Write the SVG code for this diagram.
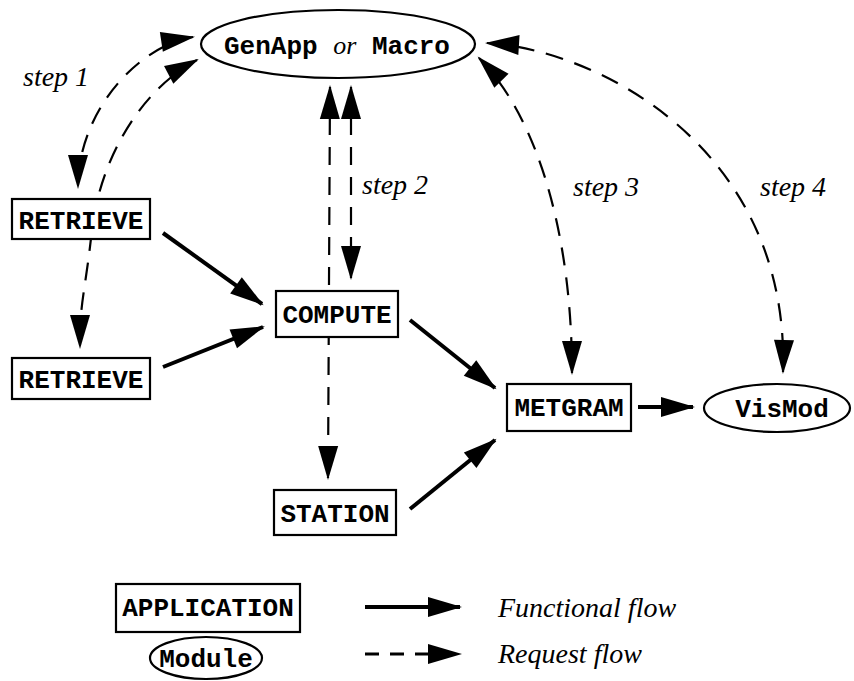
<svg xmlns="http://www.w3.org/2000/svg" width="854" height="681" viewBox="0 0 854 681">
<defs>
<marker id="ah" markerUnits="userSpaceOnUse" markerWidth="34" markerHeight="20" refX="32" refY="10" orient="auto-start-reverse" overflow="visible">
<path d="M0,0 L34,10 L0,20 z" fill="#000"/>
</marker>
</defs>
<style>
.box{fill:#fff;stroke:#000;stroke-width:2.2}
.lbl{font-family:"Liberation Mono","Courier New",monospace;font-weight:bold;font-size:26px;text-anchor:middle;fill:#000}
.it{font-family:"Liberation Serif","Times New Roman",serif;font-style:italic;font-size:28px;fill:#000}
.orw{font-family:"Liberation Serif","Times New Roman",serif;font-style:italic;font-weight:normal}
.fn{fill:none;stroke:#000;stroke-width:4;marker-end:url(#ah)}
.rq{fill:none;stroke:#000;stroke-width:2.2;stroke-dasharray:18 12;marker-start:url(#ah);marker-end:url(#ah)}
</style>
<rect width="854" height="681" fill="#fff"/>
<g id="connectors">
<path class="rq" d="M193,37 C140,45 78,110 78,187"/>
<path class="rq" d="M197,60 C140,90 100,160 92,230 S80,300 80,347"/>
<path class="rq" d="M330,87 L328,478"/>
<path class="rq" d="M351,87 L351,278"/>
<path class="rq" d="M479,58 C540,120 572,240 572,373"/>
<path class="rq" d="M487,43 C600,50 790,150 783,372"/>
<path class="fn" d="M163,233 L262,304"/>
<path class="fn" d="M163,367 L263,327"/>
<path class="fn" d="M410,320 L495,388"/>
<path class="fn" d="M410,509 L495,440"/>
<path class="fn" d="M638,407 L693,407"/>
</g>
<g id="genapp">
<ellipse class="box" cx="338" cy="44" rx="137" ry="34"/>
<text class="lbl" x="337" y="54">GenApp <tspan class="orw">or</tspan> Macro</text>
</g>
<g id="retrieve1">
<rect class="box" x="12" y="199" width="138" height="40"/>
<text class="lbl" x="81" y="229">RETRIEVE</text>
</g>
<g id="retrieve2">
<rect class="box" x="12" y="358" width="138" height="41"/>
<text class="lbl" x="81" y="388">RETRIEVE</text>
</g>
<g id="compute">
<rect class="box" x="276" y="291" width="122" height="46"/>
<text class="lbl" x="337" y="323">COMPUTE</text>
</g>
<g id="metgram">
<rect class="box" x="507" y="384" width="124" height="47"/>
<text class="lbl" x="569" y="416">METGRAM</text>
</g>
<g id="vismod">
<ellipse class="box" cx="777" cy="408" rx="73" ry="24"/>
<text class="lbl" x="782" y="417">VisMod</text>
</g>
<g id="station">
<rect class="box" x="274" y="490" width="122" height="45"/>
<text class="lbl" x="335" y="522">STATION</text>
</g>
<g id="step-labels">
<text class="it" x="23" y="86">step 1</text>
<text class="it" x="362" y="194">step 2</text>
<text class="it" x="573" y="196">step 3</text>
<text class="it" x="760" y="196">step 4</text>
</g>
<g id="legend">
<g id="legend-application">
<rect class="box" x="116" y="584" width="184" height="48"/>
<text class="lbl" x="208" y="616">APPLICATION</text>
</g>
<g id="legend-module">
<ellipse class="box" cx="206" cy="658" rx="56" ry="21"/>
<text class="lbl" x="206" y="667">Module</text>
</g>
<path class="fn" d="M365,607 L460,607"/>
<path fill="none" stroke="#000" stroke-width="3" stroke-dasharray="14 11" marker-end="url(#ah)" d="M365,654 L460,654"/>
<text class="it" x="498" y="617">Functional flow</text>
<text class="it" x="498" y="663">Request flow</text>
</g>
</svg>
